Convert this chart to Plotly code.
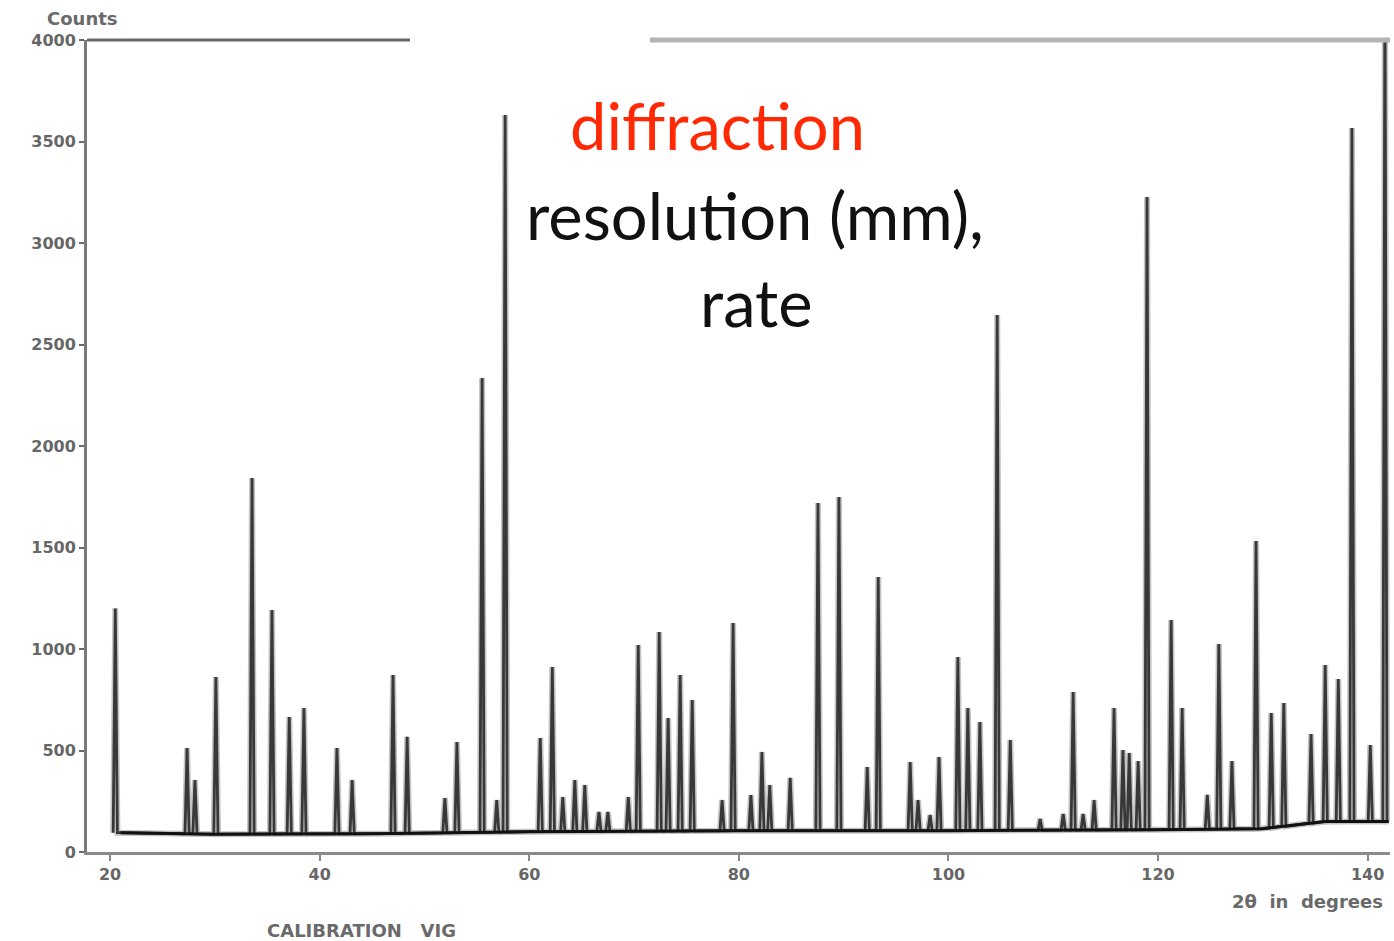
import numpy as np
import plotly.graph_objects as go

# Diffraction peaks: 2-theta position (degrees) and peak height (counts)
peak_angle = [20.5, 27.35, 28.1, 30.1, 33.55, 35.45, 37.1, 38.5, 41.65, 43.1,
              47.0, 48.35, 51.95, 53.1, 55.5, 56.9, 57.7, 61.05, 62.2, 63.2,
              64.35, 65.3, 66.65, 67.5, 69.45, 70.4, 72.4, 73.25, 74.4, 75.55,
              78.4, 79.45, 81.15, 82.2, 82.95, 84.9, 87.55, 89.55, 92.25, 93.3,
              96.35, 97.1, 98.25, 99.1, 100.9, 101.85, 103.0, 104.65, 105.9, 108.75,
              110.95, 111.9, 112.85, 113.9, 115.8, 116.65, 117.25, 118.1, 118.95, 121.25,
              122.3, 124.7, 125.8, 127.05, 129.35, 130.8, 132.0, 134.6, 135.95, 137.2,
              138.5, 140.25, 141.65]
peak_counts = [1200, 512, 355, 862, 1842, 1192, 665, 709, 512, 355,
               872, 567, 266, 542, 2335, 256, 3630, 562, 911, 271,
               355, 330, 197, 197, 271, 1020, 1084, 660, 872, 749,
               256, 1128, 281, 493, 330, 365, 1719, 1749, 419, 1355,
               443, 256, 182, 468, 961, 709, 640, 2645, 552, 163,
               187, 788, 187, 256, 709, 502, 488, 448, 3227, 1143,
               709, 281, 1025, 448, 1532, 685, 734, 581, 921, 852,
               3567, 527, 4300]

# Background level under the pattern
bg_angle = [21.0, 30.0, 45.0, 60.0, 80.0, 100.0, 120.0, 130.0, 136.0, 142.0]
bg_counts = [95, 88, 90, 100, 105, 105, 110, 115, 150, 150]

y_ticks = [0, 500, 1000, 1500, 2000, 2500, 3000, 3500, 4000]
x_ticks = [20, 40, 60, 80, 100, 120, 140]

HALF_WIDTH = 0.2

# Assemble the scan: background anchors plus a narrow spike for every peak
pts = []
for a, c in zip(bg_angle, bg_counts):
    if all(abs(a - p) > HALF_WIDTH for p in peak_angle):
        pts.append((a, c))
for p, c in zip(peak_angle, peak_counts):
    foot = float(np.interp(p, bg_angle, bg_counts))
    pts.append((p - HALF_WIDTH, foot))
    pts.append((p, c))
    pts.append((p + HALF_WIDTH, foot))
pts.sort(key=lambda t: t[0])
scan_x = [t[0] for t in pts]
scan_y = [t[1] for t in pts]

fig = go.Figure()
# soft grey halo of the recorder trace
fig.add_trace(go.Scatter(x=scan_x, y=scan_y, mode="lines",
                         line=dict(color="#c4c4c4", width=6),
                         hoverinfo="skip", showlegend=False))
fig.add_trace(go.Scatter(x=scan_x, y=scan_y, mode="lines",
                         line=dict(color="#383838", width=2.8),
                         hoverinfo="skip", showlegend=False))
fig.add_trace(go.Scatter(x=bg_angle, y=bg_counts, mode="lines",
                         line=dict(color="#111111", width=3),
                         hoverinfo="skip", showlegend=False))

W, H = 1394, 941
L, R, T, B = 87, 4, 40, 89
pw, ph = W - L - R, H - T - B


def px(xp):
    return (xp - L) / pw


def py(yp):
    return (H - B - yp) / ph


tick_font = dict(family="DejaVu Sans", size=16, color="#666666", weight="bold")
label_font = dict(family="DejaVu Sans", size=18, color="#6a6a6a", weight="bold")

fig.update_layout(
    width=W, height=H, autosize=False,
    margin=dict(l=L, r=R, t=T, b=B),
    paper_bgcolor="white", plot_bgcolor="white",
    xaxis=dict(range=[17.8, 17.8 + pw / 10.48], tickvals=x_ticks,
               ticktext=[str(v) for v in x_ticks],
               showgrid=False, zeroline=False,
               showline=True, linecolor="#8a8a8a", linewidth=3,
               ticks="outside", ticklen=6, tickcolor="#8a8a8a", tickwidth=2,
               tickfont=tick_font),
    yaxis=dict(range=[0, 4000], tickvals=y_ticks,
               ticktext=[str(v) for v in y_ticks],
               showgrid=False, zeroline=False,
               showline=True, linecolor="#7a7a7a", linewidth=3,
               ticks="outside", ticklen=5, tickcolor="#6a6a6a", tickwidth=2,
               tickfont=tick_font),
    shapes=[
        dict(type="line", xref="paper", yref="paper", x0=0, x1=px(410),
             y0=1, y1=1, line=dict(color="#6a6a6a", width=3)),
        dict(type="line", xref="paper", yref="paper", x0=px(650), x1=1,
             y0=1, y1=1, line=dict(color="#b4b4b4", width=5)),
    ],
    annotations=[
        dict(text="Counts", xref="paper", yref="paper", x=px(45), y=py(18),
             showarrow=False, xanchor="left", yanchor="middle", font=label_font),
        dict(text="2θ  in  degrees", xref="paper", yref="paper", x=px(1230), y=py(901),
             showarrow=False, xanchor="left", yanchor="middle", font=label_font),
        dict(text="CALIBRATION   VIG", xref="paper", yref="paper", x=px(265), y=py(930),
             showarrow=False, xanchor="left", yanchor="middle", font=label_font),
        dict(text="diffraction", xref="paper", yref="paper", x=px(717), y=py(125),
             showarrow=False, xanchor="center", yanchor="middle",
             font=dict(family="Lato", size=65, color="#ff2a05")),
        dict(text="resolution (mm),", xref="paper", yref="paper", x=px(755), y=py(215),
             showarrow=False, xanchor="center", yanchor="middle",
             font=dict(family="Lato", size=65, color="#111111")),
        dict(text="rate", xref="paper", yref="paper", x=px(756), y=py(302),
             showarrow=False, xanchor="center", yanchor="middle",
             font=dict(family="Lato", size=65, color="#111111")),
    ],
)

fig.write_html("out.html")
